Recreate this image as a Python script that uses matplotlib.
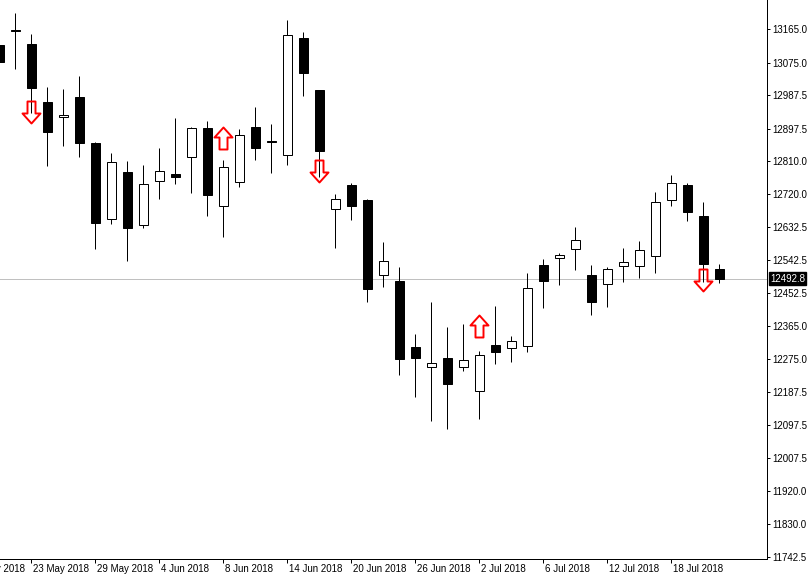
import matplotlib
matplotlib.use('Agg')
import matplotlib.pyplot as plt
from matplotlib.path import Path
from matplotlib.patches import Rectangle
from matplotlib.transforms import blended_transform_factory, ScaledTranslation

# ---- data (daily bars, 21 May 2018 .. 23 Jul 2018) ----
opens = [13123.0, 13163.0, 13126.0, 12969.5, 12928.0, 12983.0, 12858.5, 12652.5,
         12780.5, 12636.5, 12755.5, 12775.0, 12820.0, 12899.0, 12688.0, 12752.5,
         12902.0, 12864.5, 12825.5, 13142.0, 13000.5, 12679.5, 12745.5, 12705.0,
         12501.5, 12486.0, 12307.0, 12253.0, 12278.5, 12253.0, 12188.5, 12313.5,
         12304.5, 12309.5, 12529.5, 12547.5, 12571.5, 12503.5, 12478.5, 12527.5,
         12527.5, 12554.5, 12705.5, 12746.0, 12661.5, 12518.5]
highs = [13126.0, 13208.5, 13153.0, 13009.0, 13003.5, 13039.5, 12861.0, 12831.5,
         12810.0, 12799.5, 12845.0, 12926.0, 12901.5, 12918.0, 12812.5, 12897.0,
         12956.0, 12910.0, 13190.5, 13158.5, 13002.0, 12721.0, 12750.0, 12707.5,
         12591.5, 12523.0, 12343.0, 12429.5, 12362.0, 12370.0, 12297.0, 12418.5,
         12337.5, 12507.5, 12545.5, 12561.0, 12632.0, 12530.5, 12524.0, 12575.0,
         12594.0, 12726.5, 12772.5, 12750.5, 12699.5, 12532.0]
lows = [13074.0, 13059.0, 12940.0, 12797.5, 12851.5, 12821.5, 12572.5, 12640.0,
        12541.0, 12630.0, 12708.5, 12747.0, 12724.5, 12662.5, 12605.0, 12740.5,
        12812.5, 12778.5, 12800.0, 12985.5, 12767.5, 12574.5, 12651.0, 12430.5,
        12469.0, 12233.0, 12172.0, 12109.0, 12087.5, 12244.0, 12114.5, 12263.0,
        12268.5, 12295.5, 12414.0, 12476.0, 12516.5, 12395.5, 12415.0, 12484.5,
        12493.5, 12508.5, 12688.5, 12649.0, 12484.0, 12481.5]
closes = [13077.0, 13160.5, 13008.0, 12889.0, 12934.0, 12859.5, 12643.5, 12806.5,
          12630.0, 12748.0, 12782.0, 12766.0, 12899.0, 12719.0, 12794.0, 12880.0,
          12846.0, 12862.0, 13150.0, 13048.5, 12838.0, 12707.5, 12689.5, 12465.5,
          12539.5, 12275.0, 12279.0, 12264.0, 12209.0, 12272.0, 12285.5, 12295.5,
          12324.0, 12466.5, 12487.0, 12556.5, 12597.0, 12429.0, 12519.5, 12537.5,
          12570.0, 12699.5, 12750.5, 12673.0, 12533.0, 12492.8]

# signal arrows: bar index, price, direction
arrow_idx = [2, 14, 20, 30, 44]
arrow_price = [12942.0, 12871.0, 12782.0, 12365.0, 12488.5]
arrow_dir = ['down', 'up', 'down', 'up', 'down']

# date labels (bar index, text)
date_idx = [-2, 2, 6, 10, 14, 18, 22, 26, 30, 34, 38, 42]
date_labels = ['17 May 2018', '23 May 2018', '29 May 2018', '4 Jun 2018', '8 Jun 2018',
               '14 Jun 2018', '20 Jun 2018', '26 Jun 2018', '2 Jul 2018', '6 Jul 2018',
               '12 Jul 2018', '18 Jul 2018']

price_ticks = [13165.0, 13075.0, 12987.5, 12897.5, 12810.0, 12720.0, 12632.5, 12542.5,
               12452.5, 12365.0, 12275.0, 12187.5, 12097.5, 12007.5, 11920.0, 11830.0,
               11742.5]
last_price = 12492.8

# ---- figure ----
W, H = 808, 575
DPI = 100
plt.rcParams['font.family'] = ['Liberation Sans', 'DejaVu Sans']
fig = plt.figure(figsize=(W / DPI, H / DPI), dpi=DPI)
ax = fig.add_axes([0, 16 / H, 767 / W, 559 / H])

px = 0.72  # one pixel in points
body_w = 0.6

for i, (o, h, l, c) in enumerate(zip(opens, highs, lows, closes)):
    ax.vlines(i, l, h, color='black', linewidth=px, zorder=2)
    bottom = min(o, c)
    height = abs(c - o)
    fc = 'white' if c > o else 'black'
    ax.add_patch(Rectangle((i - body_w / 2, bottom), body_w, height,
                           facecolor=fc, edgecolor='black', linewidth=px, zorder=3))

# arrows
down_verts = [(-4, 11), (4, 11), (4, -1), (9, -1), (0, -11), (-9, -1), (-4, -1), (-4, 11)]
down_codes = [Path.MOVETO] + [Path.LINETO] * 6 + [Path.CLOSEPOLY]
down_path = Path(down_verts, down_codes)
up_path = Path([(x, -y) for x, y in down_verts], down_codes)
for i, p, d in zip(arrow_idx, arrow_price, arrow_dir):
    ax.plot([i], [p], marker=down_path if d == 'down' else up_path,
            markersize=22 * px, markerfacecolor='none', markeredgecolor='#ff0000',
            markeredgewidth=1.4, linestyle='none', zorder=4)

# current price line
ax.axhline(last_price, color='#c0c0c0', linewidth=px, zorder=1)

ax.set_xlim(0.0375, 47.97)
ax.set_ylim(11735.8, 13244.6)

for s in ['top', 'left']:
    ax.spines[s].set_visible(False)
for s in ['bottom', 'right']:
    ax.spines[s].set_linewidth(px)
    ax.spines[s].set_color('black')

ax.yaxis.tick_right()
ax.set_yticks(price_ticks)
ax.set_yticklabels(['%.1f' % v for v in price_ticks])
ax.tick_params(axis='y', direction='out', length=3 * px, width=px, pad=1.5,
               labelsize=7, colors='black')

in_range = [i for i in date_idx if 0 <= i <= 47]
ax.set_xticks(in_range)
ax.set_xticklabels([''] * len(in_range))
ax.tick_params(axis='x', direction='out', length=4 * px, width=px, labelsize=7)

trans = blended_transform_factory(ax.transData, ax.transAxes)
off = ScaledTranslation(2 / DPI, -5 / DPI, fig.dpi_scale_trans)
for i, lab in zip(date_idx, date_labels):
    ax.text(i, 0, lab, transform=trans + off, ha='left', va='top', fontsize=7,
            color='black', clip_on=False)

# last price label on the axis
ttrans = blended_transform_factory(ax.transAxes, ax.transData)
ax.text(1.0, last_price, '%.1f' % last_price,
        transform=ttrans + ScaledTranslation(3 / DPI, 0, fig.dpi_scale_trans),
        ha='left', va='center', fontsize=7, color='white', clip_on=False, zorder=10,
        bbox=dict(boxstyle='square,pad=0.15', facecolor='black', edgecolor='black'))

fig.savefig('out.png', dpi=DPI)
